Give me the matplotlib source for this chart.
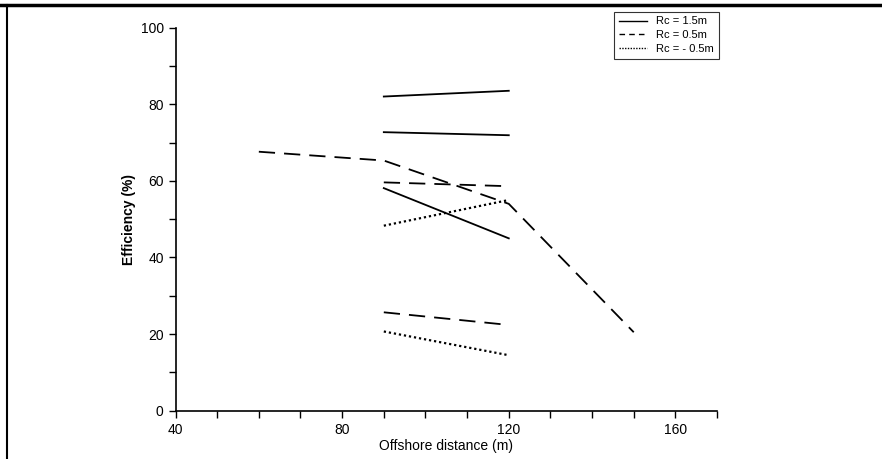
import matplotlib
matplotlib.use("Agg")
import numpy as np
import matplotlib.pyplot as plt
from matplotlib.lines import Line2D
from matplotlib.ticker import MultipleLocator

# Rc = 1.5m (solid)
solid_x = [[90, 120], [90, 120], [90, 120]]
solid_y = [[82.0, 83.5], [72.7, 71.9], [58.1, 45.0]]

# Rc = 0.5m (dashed)
dashed_x = [[60, 90, 120, 150], [90, 120], [90, 120]]
dashed_y = [[67.6, 65.3, 54.0, 20.5], [59.6, 58.6], [25.7, 22.4]]

# Rc = -0.5m (dotted)
dotted_x = [[90, 120], [90, 120]]
dotted_y = [[48.3, 55.0], [20.7, 14.5]]

legend_labels = ["Rc = 1.5m", "Rc = 0.5m", "Rc = - 0.5m"]

plt.rcParams['font.family'] = ['Liberation Sans', 'DejaVu Sans']

fig = plt.figure(figsize=(8.82, 4.59), dpi=100)
ax = fig.add_axes([0.199, 0.105, 0.614, 0.835])

for xs, ys in zip(solid_x, solid_y):
  ax.plot(xs, ys, color="black", lw=1.3, ls="-")
for xs, ys in zip(dashed_x, dashed_y):
  ax.plot(xs, ys, color="black", lw=1.3, ls=(0, (9, 5)))
for xs, ys in zip(dotted_x, dotted_y):
  ax.plot(xs, ys, color="black", lw=1.6, ls=(0, (1, 1.3)))

ax.set_xlim(40, 170)
ax.set_ylim(0, 100)
ax.xaxis.set_major_locator(MultipleLocator(40))
ax.xaxis.set_minor_locator(MultipleLocator(10))
ax.yaxis.set_major_locator(MultipleLocator(20))
ax.yaxis.set_minor_locator(MultipleLocator(10))
ax.tick_params(which="both", direction="out", length=5, width=1, labelsize=10)
ax.spines["top"].set_visible(False)
ax.spines["right"].set_visible(False)
ax.spines["left"].set_linewidth(1.2)
ax.spines["bottom"].set_linewidth(1.2)
ax.set_xlabel("Offshore distance (m)", fontsize=10, labelpad=2)
ax.set_ylabel("Efficiency (%)", fontsize=10, fontweight="bold", labelpad=3)

handles = [Line2D([], [], color="black", lw=1, ls="-"),
           Line2D([], [], color="black", lw=1, ls=(0, (4, 3))),
           Line2D([], [], color="black", lw=1, ls=(0, (1, 1)))]
leg = ax.legend(handles, legend_labels, loc="upper right", bbox_to_anchor=(1.013, 1.055),
                fontsize=8, frameon=True, fancybox=False, edgecolor="black",
                handlelength=2.6, borderpad=0.4, labelspacing=0.35)
leg.get_frame().set_linewidth(0.8)

# scan border
fig.add_artist(Line2D([0, 1], [0.989, 0.989], color="black", lw=2.5, transform=fig.transFigure))
fig.add_artist(Line2D([0.008, 0.008], [0, 0.989], color="black", lw=1.5, transform=fig.transFigure))

fig.savefig("out.png", dpi=100)
